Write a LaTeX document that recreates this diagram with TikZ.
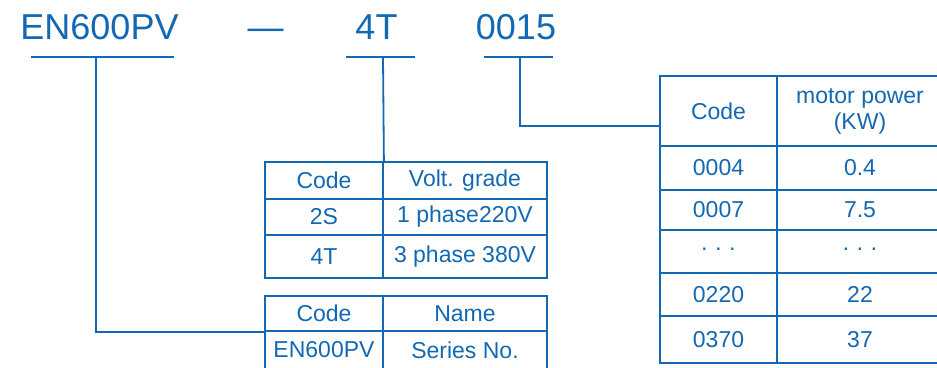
\documentclass[tikz,border=0pt]{standalone}
\usepackage{fontspec}
\setmainfont{Liberation Sans}
\usetikzlibrary{positioning,calc}
\definecolor{Blue}{HTML}{1268B3}

\begin{document}
\begin{tikzpicture}[x=1pt,y=-1pt,
  title/.style={anchor=base,text=Blue,font=\fontsize{36}{40}\selectfont,inner sep=0pt},
  cell/.style={draw=Blue,line width=1.8pt,inner sep=0pt,text=Blue,font=\fontsize{23}{26}\selectfont,align=center},
  link/.style={draw=Blue,line width=1.8pt}]
\useasboundingbox (0,0) rectangle (937,367);
\clip (0,0) rectangle (937,367);
% model string
\node[title] (en) at (99.5,39) {EN600PV};
\node[title] (dash) at (265.5,39) {—};
\node[title] (volt) at (376.5,39) {4T};
\node[title] (pow) at (516,39) {0015};
\draw[link] (31,57) -- (174,57);
\draw[link] (346,57) -- (415,57);
\draw[link] (484,57) -- (553,57);
\coordinate (enstem) at (96,57);
\coordinate (voltstem) at (383,57);
\coordinate (powstem) at (520,57);
% voltage table
\foreach \n/\ya/\yb/\a/\b in {1/162/199/Code/Volt. grade,2/199/235/2S/1 phase220V,3/235/278/4T/3 phase 380V} {
  \node[cell,minimum width=118,minimum height={\yb-\ya}] (va\n) at (324,{(\ya+\yb)/2}) {\a};
  \node[cell,minimum width=164,minimum height={\yb-\ya}] (vb\n) at (465,{(\ya+\yb)/2}) {\b};
}
% name table
\foreach \n/\ya/\yb/\a/\b in {1/296/331/Code/Name,2/331/369/EN600PV/Series No.} {
  \node[cell,minimum width=118,minimum height={\yb-\ya}] (na\n) at (324,{(\ya+\yb)/2}) {\a};
  \node[cell,minimum width=164,minimum height={\yb-\ya}] (nb\n) at (465,{(\ya+\yb)/2}) {\b};
}
% power table
\foreach \n/\ya/\yb/\a/\b in {1/76/146/Code/motor power\\(KW),2/146/190/0004/0.4,3/190/230/0007/7.5,4/230/273/\raisebox{-4pt}{· · ·}/\raisebox{-4pt}{· · ·},5/273/316/0220/22,6/316/363/0370/37} {
  \node[cell,minimum width=117,minimum height={\yb-\ya}] (pa\n) at (718.5,{(\ya+\yb)/2}) {\a};
  \node[cell,minimum width=166,minimum height={\yb-\ya}] (pb\n) at (860,{(\ya+\yb)/2}) {\b};
}
% links
\draw[link] (voltstem) -- (va1.north east);
\draw[link] (enstem) |- (na1.south west);
\draw[link] (powstem) |- ([yshift=-15pt]pa1.west);
\end{tikzpicture}
\end{document}
